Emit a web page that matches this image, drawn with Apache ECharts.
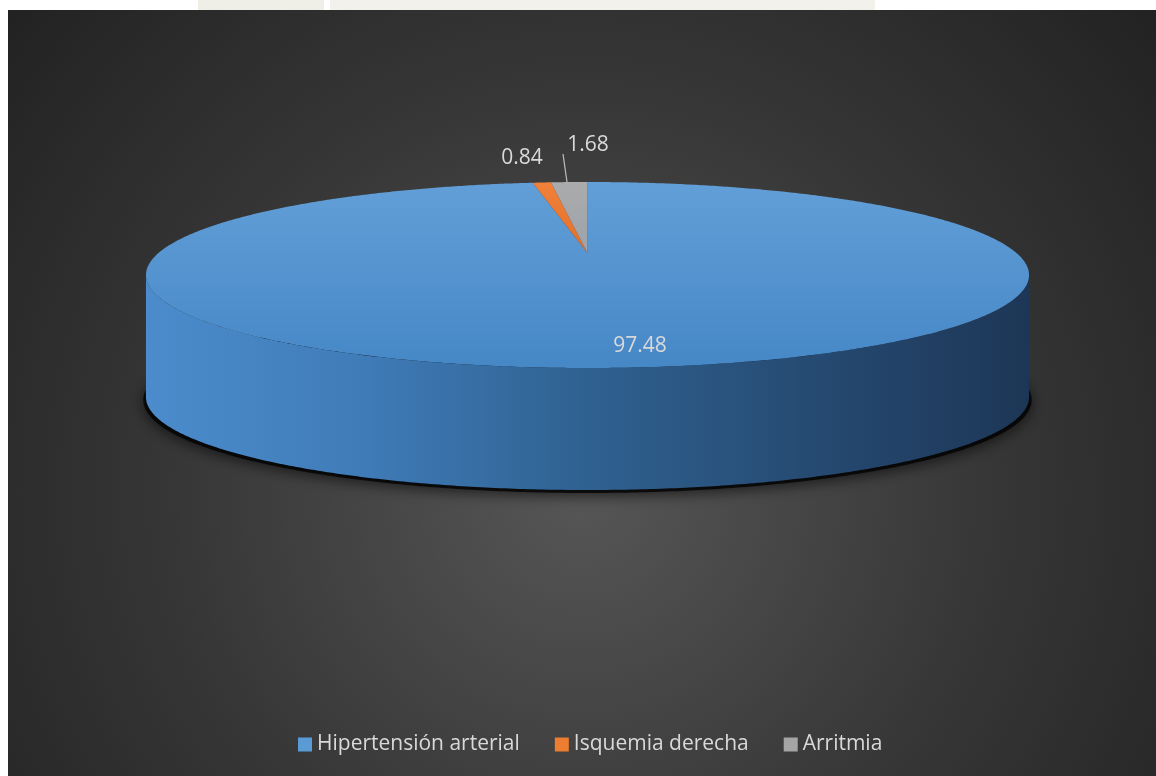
<!DOCTYPE html>
<html>
<head>
<meta charset="utf-8">
<script src="https://cdn.jsdelivr.net/npm/echarts@6/dist/echarts.min.js"></script>
<style>
  html, body { margin: 0; padding: 0; background: #ffffff; }
  #chart { width: 1156px; height: 776px; }
</style>
</head>
<body>
<div id="chart"></div>
<script>
// Categories and their shares (%)
const categories = ['Hipertensión arterial', 'Isquemia derecha', 'Arritmia'];
const values = [97.48, 0.84, 1.68];
const baseColors = ['#5b9bd5', '#ed7d31', '#a5a5a5'];

// Tilted-disc projection: a unit circle seen in perspective
const CX = 587.5, CY = 253;   // projected centre of the disc
const RX = 429, RY = 87.8;    // horizontal / vertical half-size factors
const PERSP = -0.2366;        // perspective foreshortening
const DEPTH = 122;            // thickness of the disc
const total = values.reduce((a, b) => a + b, 0);

// theta measured clockwise from 12 o'clock
function proj(theta, drop) {
  const u = Math.sin(theta), v = -Math.cos(theta);
  const d = 1 + PERSP * v;
  return [CX + RX * u / d, CY + RY * v / d + (drop || 0)];
}
function arc(t0, t1, drop) {
  const pts = [];
  const n = Math.max(2, Math.ceil(Math.abs(t1 - t0) / (Math.PI / 360)));
  for (let i = 0; i <= n; i++) pts.push(proj(t0 + (t1 - t0) * i / n, drop));
  return pts;
}
// silhouette of the side wall (left/right extremes of the projected rim)
const SIL_R = Math.acos(PERSP);            // right extreme
const SIL_L = 2 * Math.PI - SIL_R;         // left extreme

// label anchors and leader lines
const labelAnchors = [[640, 346], [522, 158], [588, 145]];
const leaderLines = [null, null, [[563, 154], [567, 182]]];

const topFills = [
  new echarts.graphic.LinearGradient(0, 182, 0, 368, [
    { offset: 0, color: '#629fd8' }, { offset: 1, color: '#4687c6' }], true),
  new echarts.graphic.LinearGradient(0, 182, 0, 253, [
    { offset: 0, color: '#f0803a' }, { offset: 1, color: '#e0702a' }], true),
  new echarts.graphic.LinearGradient(0, 182, 0, 253, [
    { offset: 0, color: '#ababab' }, { offset: 1, color: '#9ca3ab' }], true)
];
const sideFill = new echarts.graphic.LinearGradient(145, 0, 1030, 0, [
  { offset: 0, color: '#4c8ccc' },
  { offset: 0.25, color: '#3f7bb7' },
  { offset: 0.5, color: '#2f6190' },
  { offset: 0.78, color: '#25486f' },
  { offset: 1, color: '#1d3656' }], true);

function sliceRange(idx) {
  let start = 0;
  for (let i = 0; i < idx; i++) start += values[i];
  return [start / total * 2 * Math.PI, (start + values[idx]) / total * 2 * Math.PI];
}

function makeRender(idx) {
  return function (params, api) {
    const val = api.value(0);
    const [t0, t1] = sliceRange(idx);
    const children = [];
    // shadow under the disc and visible side wall
    const a = Math.max(t0, SIL_R), b = Math.min(t1, SIL_L);
    if (b > a) {
      if (t0 <= SIL_R && t1 >= SIL_L) {
        const shadow = arc(0, 2 * Math.PI, DEPTH + 3).map(p => [CX + (p[0] - CX) * 1.006, p[1]]);
        children.push({
          type: 'polygon', z2: 0,
          shape: { points: shadow },
          style: { fill: 'rgba(0,0,0,0.75)', shadowBlur: 14, shadowColor: 'rgba(0,0,0,0.8)', shadowOffsetY: 3 }
        });
      }
      const topEdge = arc(a, b, 0);
      const botEdge = arc(b, a, DEPTH);
      children.push({
        type: 'polygon', z2: 1,
        shape: { points: topEdge.concat(botEdge) },
        style: { fill: sideFill }
      });
    }
    // top face
    const pts = [[CX, CY]].concat(arc(t0, t1, 0));
    children.push({
      type: 'polygon', z2: 2,
      shape: { points: pts },
      style: { fill: topFills[idx] }
    });
    // leader line
    if (leaderLines[idx]) {
      const l = leaderLines[idx];
      children.push({
        type: 'line', z2: 3,
        shape: { x1: l[0][0], y1: l[0][1], x2: l[1][0], y2: l[1][1] },
        style: { stroke: '#bfbfbf', lineWidth: 1.2 }
      });
    }
    // value label
    children.push({
      type: 'text', z2: 4,
      style: {
        text: String(val),
        x: labelAnchors[idx][0], y: labelAnchors[idx][1],
        fill: '#d9d9d9',
        fontSize: 21, fontFamily: '"Open Sans", sans-serif',
        align: 'center', verticalAlign: 'middle',
        textAlign: 'center', textVerticalAlign: 'middle'
      }
    });
    return { type: 'group', children: children };
  };
}

const series = categories.map((name, i) => ({
  type: 'custom',
  name: name,
  coordinateSystem: 'none',
  z: 2 + i,
  itemStyle: { color: baseColors[i] },
  data: [[values[i]]],
  renderItem: makeRender(i),
  silent: true
}));

const chart = echarts.init(document.getElementById('chart'), null, { renderer: 'canvas' });
chart.setOption({
  animation: false,
  backgroundColor: '#ffffff',
  graphic: [
    { type: 'rect', z: -20, shape: { x: 198, y: 0, width: 126, height: 10 }, style: { fill: '#efeee7' } },
    { type: 'rect', z: -20, shape: { x: 330, y: 0, width: 545, height: 10 }, style: { fill: '#f2f1eb' } },
    {
      type: 'rect', z: -10,
      shape: { x: 8, y: 10, width: 1148, height: 766 },
      style: {
        fill: new echarts.graphic.RadialGradient(0.5, 0.63, 0.98, [
          { offset: 0, color: '#565656' },
          { offset: 0.55, color: '#363636' },
          { offset: 1, color: '#222222' }])
      }
    }
  ],
  legend: {
    left: 293,
    top: 729,
    icon: 'rect',
    itemWidth: 14,
    itemHeight: 14,
    itemGap: 35,
    textStyle: { color: '#d9d9d9', fontSize: 21, fontFamily: '"Open Sans", sans-serif' },
    data: categories
  },
  series: series
});
</script>
</body>
</html>
